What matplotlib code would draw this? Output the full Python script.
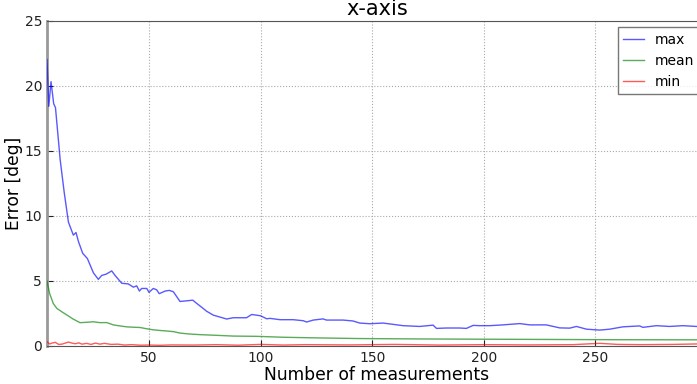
import matplotlib
matplotlib.use('Agg')
import matplotlib.pyplot as plt

# values
max_x = [4.3, 5.1, 6.1, 7.3, 8.1, 10.2, 12.0, 13.9, 16.1, 17.3, 18.4, 20.3, 22.4, 25.1, 27.3,
         28.8, 30.8, 33.3, 34.8, 37.8, 40.7, 43.0, 44.5, 45.7, 46.7, 49.0, 50.0, 51.9, 53.4,
         54.6, 57.2, 59.1, 60.9, 63.9, 66.9, 69.6, 71.4, 74.0, 75.8, 78.8, 81.8, 84.8, 87.7,
         93.7, 96.0, 100.0, 102.7, 104.2, 108.7, 114.6, 119.1, 120.6, 123.6, 128.0, 129.5,
         137.0, 141.4, 144.4, 148.9, 154.9, 159.4, 163.8, 171.3, 177.3, 178.8, 183.3, 189.2,
         192.2, 195.2, 198.2, 202.7, 208.6, 216.1, 220.6, 228.0, 234.0, 238.5, 241.5, 246.0,
         251.9, 256.4, 262.3, 269.8, 271.3, 277.3, 283.2, 289.2, 295.2, 300.0]
max_y = [22.0, 18.4, 20.3, 18.6, 18.3, 14.3, 11.8, 9.5, 8.5, 8.7, 8.0, 7.1, 6.7, 5.6, 5.1,
         5.4, 5.5, 5.75, 5.4, 4.8, 4.75, 4.5, 4.6, 4.2, 4.4, 4.4, 4.1, 4.4, 4.3,
         4.0, 4.2, 4.25, 4.15, 3.4, 3.45, 3.5, 3.25, 2.9, 2.65, 2.35, 2.2, 2.05, 2.15,
         2.15, 2.4, 2.3, 2.07, 2.1, 2.0, 2.0, 1.92, 1.82, 1.97, 2.06, 1.97,
         1.97, 1.9, 1.74, 1.69, 1.74, 1.64, 1.54, 1.48, 1.58, 1.33, 1.36, 1.36,
         1.33, 1.56, 1.54, 1.54, 1.6, 1.7, 1.6, 1.6, 1.37, 1.35, 1.48, 1.27,
         1.2, 1.27, 1.45, 1.52, 1.41, 1.54, 1.48, 1.54, 1.48, 1.48]

mean_x = [4.3, 5.5, 7.1, 8.7, 11, 13.2, 16, 19.1, 22, 25.1, 28.1, 31, 34, 37, 40, 43, 46, 49,
          51.9, 55, 57.9, 61, 63.9, 68, 72.8, 80, 87.7, 98.2, 110, 125, 144, 170, 198, 230,
          260, 300]
mean_y = [4.97, 4.0, 3.25, 2.87, 2.6, 2.36, 2.05, 1.77, 1.8, 1.84, 1.77, 1.78, 1.6, 1.52, 1.45,
          1.42, 1.4, 1.3, 1.22, 1.17, 1.13, 1.08, 0.97, 0.9, 0.85, 0.8, 0.74, 0.72, 0.65, 0.6,
          0.55, 0.52, 0.5, 0.48, 0.46, 0.45]

min_x = [4.3, 5.5, 6.5, 8, 9.5, 11, 12.5, 13.9, 15.5, 17, 18.5, 20, 22, 24, 26, 28, 30, 33, 36,
         39, 42, 46, 50, 55, 60, 70, 80, 90, 100, 110, 120, 140, 160, 180, 200, 220, 240, 248,
         252, 260, 270, 285, 300]
min_y = [0.3, 0.13, 0.2, 0.26, 0.1, 0.12, 0.2, 0.28, 0.2, 0.15, 0.22, 0.12, 0.18, 0.1, 0.2,
         0.12, 0.18, 0.1, 0.12, 0.05, 0.08, 0.04, 0.05, 0.03, 0.06, 0.05, 0.08, 0.04, 0.1,
         0.05, 0.08, 0.06, 0.1, 0.05, 0.08, 0.06, 0.08, 0.15, 0.18, 0.1, 0.08, 0.1, 0.15]

fig = plt.figure(figsize=(6.97, 3.84), dpi=100)
ax = fig.add_axes([47 / 697, 1 - 345.7 / 384, (707 - 47) / 697, (345.7 - 20.5) / 384])

ax.plot(max_x, max_y, color='b', lw=1, alpha=0.65, label='max', zorder=3)
ax.plot(mean_x, mean_y, color='g', lw=1, alpha=0.65, label='mean', zorder=3)
ax.plot(min_x, min_y, color='r', lw=1, alpha=0.65, label='min', zorder=3)

ax.set_xlim(4.3, 300)
ax.set_ylim(0, 25)
ax.set_xticks([50, 100, 150, 200, 250])
ax.set_yticks([0, 5, 10, 15, 20, 25])
ax.grid(True, linestyle=':', color='#aaaaaa', lw=0.8)
ax.tick_params(direction='in', labelsize=10, length=4, colors='#222222')
for s in ax.spines.values():
    s.set_color('#555555')
ax.spines['left'].set_color('#999999')
ax.spines['left'].set_linewidth(2)

ax.set_title('x-axis', fontsize=15, pad=4)
ax.set_xlabel('Number of measurements', fontsize=12.3, labelpad=1)
ax.set_ylabel('Error [deg]', fontsize=12.3)
ax.yaxis.set_label_coords(-0.037, 0.5)

leg = ax.legend(loc='upper right', fontsize=10, handlelength=1.5, fancybox=False,
                borderaxespad=0.5, labelspacing=0.5)
leg.get_frame().set_edgecolor('#555555')

fig.savefig('out.png', dpi=100)
